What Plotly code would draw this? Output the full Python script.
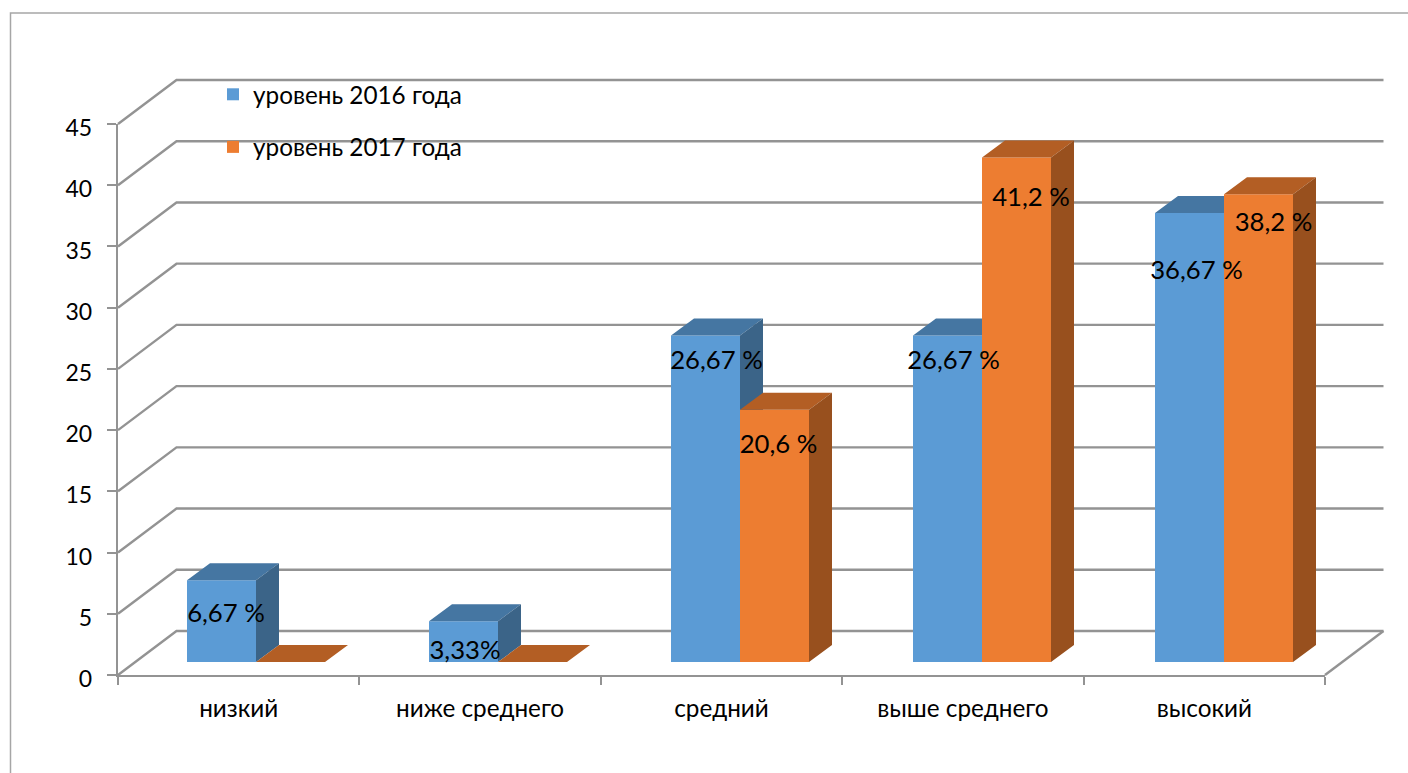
import plotly.graph_objects as go

# ---- data ----
categories = ["низкий", "ниже среднего", "средний", "выше среднего", "высокий"]
level_2016 = [6.67, 3.33, 26.67, 26.67, 36.67]
level_2017 = [0, 0, 20.6, 41.2, 38.2]
labels_2016 = ["6,67 %", "3,33%", "26,67 %", "26,67 %", "36,67 %"]
labels_2017 = [None, None, "20,6 %", "41,2 %", "38,2 %"]
name_2016 = "уровень 2016 года"
name_2017 = "уровень 2017 года"
y_ticks = [0, 5, 10, 15, 20, 25, 30, 35, 40, 45]

# ---- style / geometry (pixels) ----
W, H = 1408, 773
FONT = 'Lato, "Noto Sans", sans-serif'
FS = 24.3
FS_TICK = 23
FS_LABEL = 25.7
AX_L, AX_R, AX_B, AX_T = 118, 1325, 675, 124
CAT_PX = (AX_R - AX_L) / len(categories)
VAL_PX = (AX_B - AX_T) / 45
WALL_DX, WALL_DY = 58.5, 44
BAR_STEP = 242
BAR_FIRST = 256
INSET_DY = 13
BAR_DX, BAR_DY = 23, 17
BAR_W = 69
GRID = "#939393"
FRAME = "#a6a6a6"
BLUE = dict(front="#5B9BD5", top="#4576A2", side="#3B6488")
ORANGE = dict(front="#ED7D31", top="#B35E24", side="#98501E")
# label offsets from the bar's centre / top, in pixels (placed by hand in the original)
SHIFT_2016 = [(4.5, 35), (1.5, 31), (11, 27), (6, 27), (7, 60)]
SHIFT_2017 = [None, None, (4, 37), (14.5, 42), (15, 30)]

ux = lambda px: px / CAT_PX
uy = lambda px: px / VAL_PX
page_x = [ux(0 - AX_L), ux(W - AX_L)]
page_y = [uy(AX_B - H), uy(AX_B)]


def page_axes(n):
    s = "" if n == 1 else str(n)
    over = {} if n == 1 else {"overlaying": "x"}
    overy = {} if n == 1 else {"overlaying": "y"}
    return {
        f"xaxis{s}": dict(range=page_x, domain=[0, 1], visible=False, fixedrange=True, **over),
        f"yaxis{s}": dict(range=page_y, domain=[0, 1], visible=False, fixedrange=True, **overy),
    }


fig = go.Figure()

# walls and floor (page layer 1)
wx, wy = [], []
for v in y_ticks:
    wx += [0, ux(WALL_DX), len(categories) + ux(WALL_DX), None]
    wy += [v, v + uy(WALL_DY), v + uy(WALL_DY), None]
wx += [len(categories) + ux(WALL_DX), len(categories)]
wy += [uy(WALL_DY), 0]
fig.add_trace(go.Scatter(x=wx, y=wy, mode="lines", line=dict(color=GRID, width=2.4),
                         showlegend=False, hoverinfo="skip", xaxis="x", yaxis="y"))


def series(values, colors, sign, name, group, n):
    xa, ya = f"x{n}", f"y{n}"
    centers = [ux(BAR_FIRST - AX_L + i * BAR_STEP + sign * BAR_W / 2) for i in range(len(values))]
    fig.add_trace(go.Bar(x=centers, y=values, base=uy(INSET_DY), width=ux(BAR_W), name=name,
                         marker=dict(color=colors["front"], line=dict(width=0)),
                         legendgroup=group, xaxis=xa, yaxis=ya))
    tx, ty, sx, sy = [], [], [], []
    for c, v in zip(centers, values):
        l, r = c - ux(BAR_W) / 2, c + ux(BAR_W) / 2
        b = uy(INSET_DY)
        t = b + v
        tx += [l, r, r + ux(BAR_DX), l + ux(BAR_DX), l, None]
        ty += [t, t, t + uy(BAR_DY), t + uy(BAR_DY), t, None]
        sx += [r, r + ux(BAR_DX), r + ux(BAR_DX), r, r, None]
        sy += [b, b + uy(BAR_DY), t + uy(BAR_DY), t, b, None]
    for px_, py_, col in ((tx, ty, colors["top"]), (sx, sy, colors["side"])):
        fig.add_trace(go.Scatter(x=px_, y=py_, mode="lines", fill="toself", fillcolor=col,
                                 line=dict(width=0), showlegend=False, hoverinfo="skip",
                                 xaxis=xa, yaxis=ya))
    return centers


c16 = series(level_2016, BLUE, -1, name_2016, "a", 2)
c17 = series(level_2017, ORANGE, 1, name_2017, "b", 3)

# data labels (page layer 4)
lx, ly, lt = [], [], []
for centers, values, shifts, labels in ((c16, level_2016, SHIFT_2016, labels_2016),
                                        (c17, level_2017, SHIFT_2017, labels_2017)):
    for c, v, s, label in zip(centers, values, shifts, labels):
        if label is None:
            continue
        lx.append(c + ux(s[0]))
        ly.append(uy(INSET_DY) + v - uy(s[1]))
        lt.append(label)
fig.add_trace(go.Scatter(x=lx, y=ly, text=lt, mode="text", textposition="middle center",
                         textfont=dict(family=FONT, size=FS_LABEL, color="#000000"),
                         showlegend=False, hoverinfo="skip", xaxis="x4", yaxis="y4"))

# real value / category axes, with their own domain
fig.add_trace(go.Scatter(x=categories, y=[None] * len(categories), mode="markers",
                         showlegend=False, hoverinfo="skip", xaxis="x5", yaxis="y5"))

layout = dict(
    width=W, height=H, margin=dict(l=0, r=0, t=0, b=0, autoexpand=False),
    paper_bgcolor="white", plot_bgcolor="rgba(0,0,0,0)", barmode="overlay",
    font=dict(family=FONT, size=FS, color="#000000"),
    showlegend=True,
    legend=dict(x=213 / W, y=1 - 72 / H, xanchor="left", yanchor="top", bgcolor="rgba(0,0,0,0)",
                tracegroupgap=18, font=dict(family=FONT, size=FS), itemclick=False,
                itemdoubleclick=False),
    shapes=[dict(type="path", xref="paper", yref="paper",
                 path=f"M {10.5 / W},0 L {10.5 / W},{1 - 13 / H} L 1,{1 - 13 / H}",
                 line=dict(color=FRAME, width=1.5), layer="below")],
    xaxis5=dict(type="category", domain=[AX_L / W, AX_R / W], range=[-0.5, len(categories) - 0.5],
                tickmode="array", tickvals=categories, ticktext=categories, tickson="boundaries",
                ticks="outside", ticklen=8, tickwidth=1.5, tickcolor=GRID, showline=True,
                linecolor=GRID, linewidth=2.4, showgrid=False, ticklabelstandoff=11,
                tickfont=dict(family=FONT, size=FS), anchor="y5", fixedrange=True),
    yaxis5=dict(domain=[1 - AX_B / H, 1 - AX_T / H], range=[0, 45], tickmode="array",
                tickvals=y_ticks, ticks="outside", ticklen=9, tickwidth=1.5, tickcolor=GRID,
                showline=True, linecolor=GRID, linewidth=2.4, showgrid=False, zeroline=False,
                ticklabelstandoff=10, ticklabelshift=4, tickfont=dict(family=FONT, size=FS_TICK),
                anchor="x5", fixedrange=True),
)
for n in (1, 2, 3, 4):
    layout.update(page_axes(n))
fig.update_layout(**layout)

fig.write_html("out.html", config=dict(displayModeBar=False),
               post_script="document.body.style.margin='0';document.body.style.overflow='hidden';")
